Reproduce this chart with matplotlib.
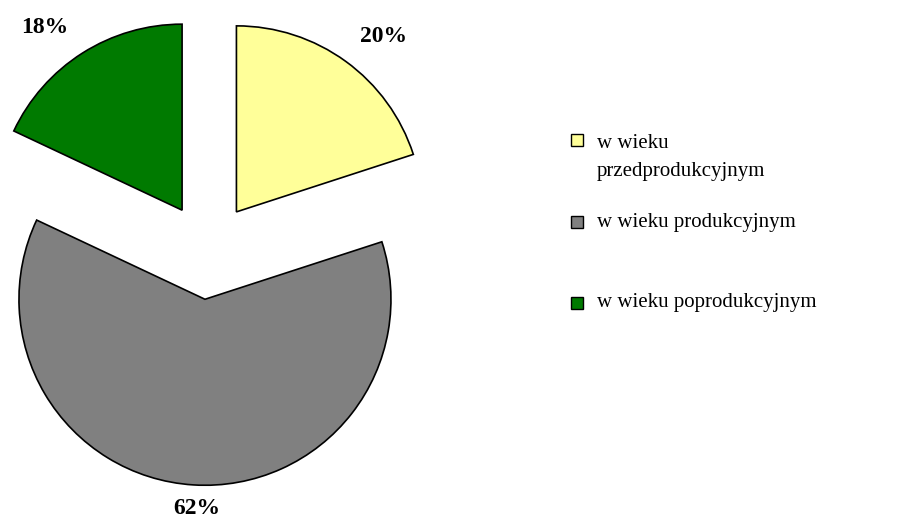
import matplotlib
matplotlib.use("Agg")
import matplotlib.pyplot as plt
import numpy as np
from matplotlib.patches import Rectangle

# dane
categories = ["w wieku\nprzedprodukcyjnym", "w wieku produkcyjnym", "w wieku poprodukcyjnym"]
shares = [20, 62, 18]
colors = ["#FFFF99", "#808080", "#007A00"]

W, H = 921, 518
fig = plt.figure(figsize=(W / 100, H / 100), dpi=100)
ax = fig.add_axes([0, 0, 1, 1])

R = 186
center = (208, H - 251)
wedges, _ = ax.pie(shares, colors=colors, radius=R, center=center,
                   startangle=90, counterclock=False,
                   explode=[0.26 * R] * len(shares),
                   wedgeprops=dict(edgecolor="black", linewidth=1.2),
                   frame=True)
ax.set_xlim(0, W)
ax.set_ylim(0, H)
ax.set_aspect("equal")
ax.set_axis_off()

# etykiety procentowe (poza wycinkami)
label_dist = [1.23, 1.125, 1.23]
label_turn = [4, -1.5, -4.5]
for w, v, d, t in zip(wedges, shares, label_dist, label_turn):
    ang = np.deg2rad((w.theta1 + w.theta2) / 2 - t)
    x = w.center[0] + d * R * np.cos(ang)
    y = w.center[1] + d * R * np.sin(ang)
    ax.text(x, y, f"{v}%", ha="center", va="center", fontsize=17,
            fontweight="bold", family="Liberation Serif")

# legenda
leg_rows = [140, 222, 303]
for lab, col, row in zip(categories, colors, leg_rows):
    ax.add_patch(Rectangle((571, H - row - 6), 12, 12, facecolor=col,
                           edgecolor="black", linewidth=1.0))
    n = lab.count("\n")
    ax.text(597, H - row - n * 17.5, lab, ha="left", va="center", fontsize=15,
            linespacing=1.65, family="Liberation Serif")

fig.savefig("out.png", dpi=100, facecolor="white")
plt.close(fig)
